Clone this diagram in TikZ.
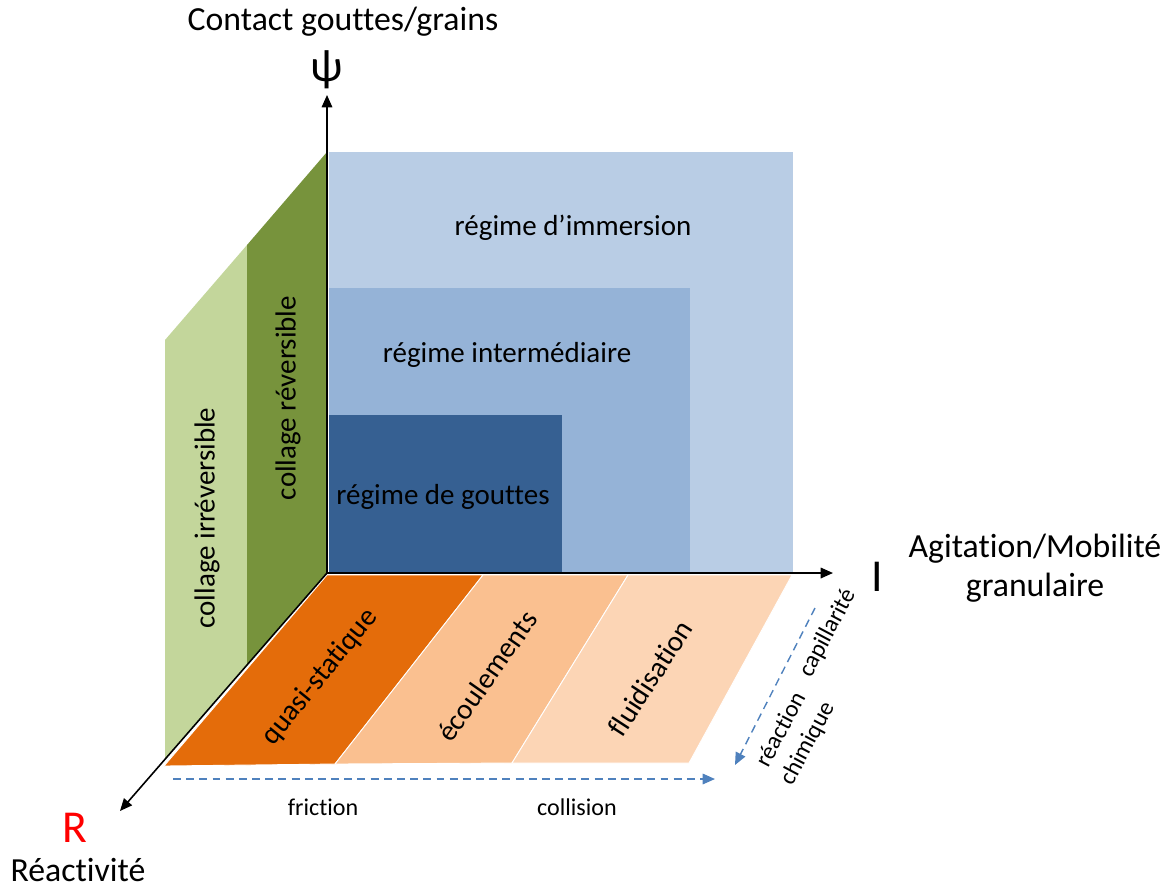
\documentclass[tikz,border=0pt]{standalone}
\usepackage{fontspec}
\setmainfont{Carlito}[Ligatures=NoCommon]
\usepackage{tikz}
\usetikzlibrary{arrows.meta, positioning, calc}
\definecolor{immblue}{RGB}{185,205,229}
\definecolor{interblue}{RGB}{149,179,215}
\definecolor{dropblue}{RGB}{54,96,146}
\definecolor{revgreen}{RGB}{119,147,60}
\definecolor{irrgreen}{RGB}{195,214,155}
\definecolor{statorange}{RGB}{228,108,10}
\definecolor{floworange}{RGB}{250,192,144}
\definecolor{fluidorange}{RGB}{252,213,181}
\definecolor{dashblue}{RGB}{79,129,189}

\begin{document}
\begin{tikzpicture}[
    x=0.02cm, y=-0.02cm,
    axis/.style={-{Triangle[length=7pt, width=6pt]}, line width=0.9pt},
    dasharrow/.style={-{Triangle[length=7pt, width=6pt]}, dash pattern=on 4.5pt off 3pt, dashblue, line width=0.8pt},
    floor/.style={draw=white, line width=0.5pt},
    zone/.style={font=\fontsize{16.5}{19}\selectfont},
    small/.style={font=\fontsize{13.7}{17}\selectfont, align=center},
    axislabel/.style={font=\fontsize{19.2}{22.5}\selectfont, align=center},
    letter/.style={font=\fontsize{26}{30}\selectfont}
]
\useasboundingbox (0,0) rectangle (1173,890);

% axes end points
\coordinate (O) at (327,573);
\coordinate (psitip) at (327,95);
\coordinate (itip) at (833,573);
\coordinate (rtip) at (120,811);

% regimes (back wall)
\fill[immblue] (329,152) rectangle (793,573);
\fill[interblue] (329,288) rectangle (690,573);
\fill[dropblue] (329,415) rectangle (562,573);

% collage (side wall)
\fill[irrgreen] (247,245) -- (165,340) -- (165,759) -- (247,665) -- cycle;
\fill[revgreen] (327,152) -- (247,245) -- (247,665) -- (327,573) -- cycle;

% floor
\fill[statorange, floor] (327,575) -- (483,575) -- (335,764) -- (164,766) -- cycle;
\fill[floworange, floor] (483,575) -- (628,575) -- (512,763) -- (335,764) -- cycle;
\fill[fluidorange, floor] (628,575) -- (792,575) -- (689,763) -- (512,763) -- cycle;

\node[zone] (immersion) at (573,228) {régime d’immersion};
\node[zone] (inter) at (507,355) {régime intermédiaire};
\node[zone] (drops) at (443,497) {régime de gouttes};
\node[zone, rotate=90] (irrev) at (207,518) {collage irréversible};
\node[zone, rotate=90] (rev) at (288,398) {collage réversible};
\node[zone, rotate=51] (quasi) at (320,677) {quasi-statique};
\node[zone, rotate=55] (flow) at (487,676) {écoulements};
\node[zone, rotate=57] (fluid) at (650,678) {fluidisation};

% axes
\draw[axis] (O) -- (psitip);
\draw[axis] (O) -- (itip);
\draw[axis] (O) -- (rtip);

\node[letter] (psi) at (327,70) {ψ};
\node[axislabel] (contact) at (343,22) {Contact gouttes/grains};
\node[letter] (ilabel) at (877,577) {I};
\node[axislabel] (agit) at (1035,568) {Agitation/Mobilité\\granulaire};
\node[letter, red] (rlabel) at (75,828) {R};
\node[axislabel] (react) at (78,870) {Réactivité};

% interactions
\coordinate (fricstart) at (173,779);
\coordinate (collend) at (715,779);
\coordinate (capstart) at (815,608);
\coordinate (chemend) at (735,765);
\draw[dasharrow] (fricstart) -- (collend);
\draw[dasharrow] (capstart) -- (chemend);
\node[small] (friction) at (323,807) {friction};
\node[small] (collision) at (577,807) {collision};
\node[small, rotate=62] (capil) at (828,633) {capillarité};
\node[small, rotate=62] (chem) at (795,737) {réaction\\chimique};

\end{tikzpicture}
\end{document}
